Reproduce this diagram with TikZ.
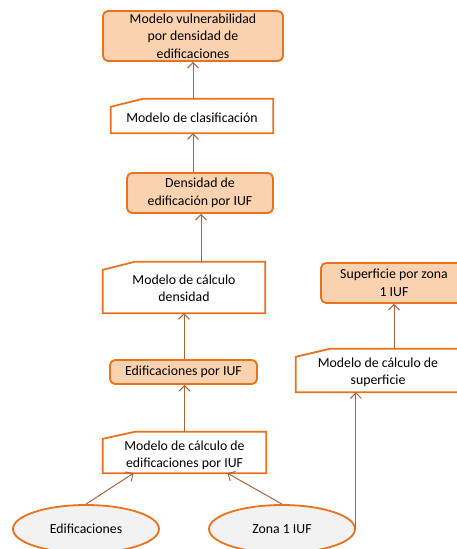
\documentclass[tikz,border=0pt]{standalone}
\usepackage{fontspec}
\setmainfont{Carlito}
\usetikzlibrary{arrows.meta,shapes.geometric}
\definecolor{edge}{HTML}{E8731C}
\definecolor{peach}{HTML}{FAD2B0}
\definecolor{pale}{HTML}{F2F2F2}
\definecolor{link}{HTML}{A8643A}
\tikzset{
  txt/.style={align=center, inner sep=0pt, font=\fontsize{13.8}{17.5}\selectfont},
  result/.style={txt, draw=edge, fill=peach, line width=1.8pt, rounded corners=5pt},
  process/.style={txt},
  outline/.style={draw=edge, fill=white, line width=1.8pt, line join=miter},
  source/.style={txt, ellipse, draw=edge, fill=pale, line width=1.8pt, inner sep=0pt},
  flow/.style={draw=link, line width=1pt, -{Straight Barb[length=5.5pt,width=11pt,line width=1pt]}},
}
% manual-input outline behind a process node: slanted top-left corner
\newcommand{\manualshape}[3]{%
  \path[outline] ([yshift=-#3]#1.north west) -- ([xshift=#2]#1.north west)
    -- (#1.north east) -- (#1.south east) -- (#1.south west) -- cycle;}
\begin{document}
\begin{tikzpicture}[x=1pt,y=-1pt]
\useasboundingbox (0,0) rectangle (457,549);
\clip (0,0) rectangle (457,549);

% results
\node[result, minimum width=180pt, minimum height=50pt] (b1) at (193,36)
  {Modelo vulnerabilidad\\por densidad de\\edificaciones};
\node[result, minimum width=146pt, minimum height=40pt] (b3) at (200,193)
  {Densidad de\\edificación por IUF};
\node[result, minimum width=147pt, minimum height=24pt] (b5) at (183.5,372)
  {Edificaciones por IUF};
\node[result, minimum width=146pt, minimum height=40pt] (b7) at (394,283)
  {Superficie por zona\\1 IUF};

% processes
\node[process, minimum width=162pt, minimum height=34pt] (b2) at (192,116) {};
\manualshape{b2}{32pt}{8pt}
\node[txt] at ([yshift=-2pt]b2.center) {Modelo de clasificación};

\node[process, minimum width=162pt, minimum height=51pt] (b4) at (184,287.5) {};
\manualshape{b4}{32pt}{8pt}
\node[txt] at ([yshift=-1pt]b4.center) {Modelo de cálculo\\densidad};

\node[process, minimum width=163pt, minimum height=41pt] (b6) at (184.5,452.5) {};
\manualshape{b6}{32pt}{7pt}
\node[txt] at ([yshift=-3pt]b6.center) {Modelo de cálculo de\\edificaciones por IUF};

\node[process, minimum width=164pt, minimum height=43pt] (b8) at (378,370.5) {};
\manualshape{b8}{34pt}{8pt}
\node[txt] at ([yshift=-2pt]b8.center) {Modelo de cálculo de\\superficie};

% sources
\node[source, minimum width=146pt, minimum height=48pt] (e1) at (86,529) {Edificaciones};
\node[source, minimum width=146pt, minimum height=48pt] (e2) at (282,529) {Zona 1 IUF};

% connectors
\draw[flow] (b2.north -| b1.south) -- (b1.south);
\draw[flow] (b3.north -| b1.south) -- (b1.south |- b2.south);
\draw[flow] ([xshift=17pt]b4.north) -- ([xshift=17pt]b4.north |- b3.south);
\draw[flow] (b5.north -| b4.south) -- (b4.south);
\draw[flow] (b6.north) -- (b6.north |- b5.south);
\draw[flow] (e1.north) -- ([xshift=-51pt]b6.south);
\draw[flow] (e2.north) -- ([xshift=43pt]b6.south);
\draw[flow] (e2.east) -- (e2.east |- b8.south);
\draw[flow] (b7.south |- b8.north) -- (b7.south);
\end{tikzpicture}
\end{document}
